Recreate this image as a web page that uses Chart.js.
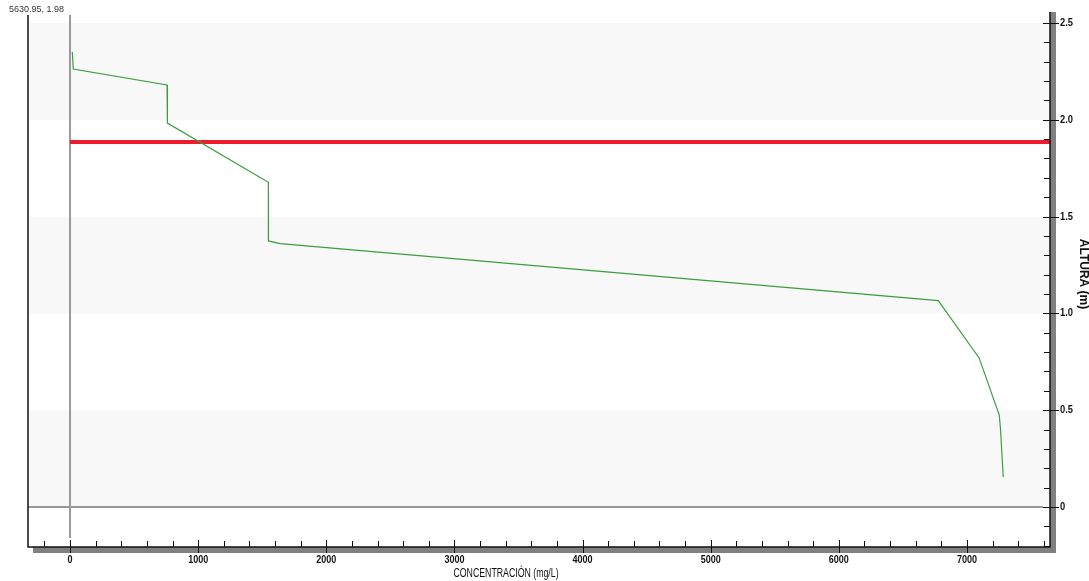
<!DOCTYPE html>
<html>
<head>
<meta charset="utf-8">
<script src="https://cdn.jsdelivr.net/npm/chart.js@4"></script>
<style>
html,body{margin:0;padding:0;background:#fff;}
#wrap{width:1089px;height:581px;position:relative;}
</style>
</head>
<body>
<div id="wrap"><canvas id="c" width="1089" height="581"></canvas></div>
<script>
// ---- data ----
const concentration = [18, 25, 757, 760, 1548, 1548, 1640, 6776, 7095, 7252, 7262, 7283];
const height        = [2.35, 2.262, 2.18, 1.983, 1.677, 1.374, 1.36, 1.066, 0.77, 0.475, 0.40, 0.155];
const refLevelY = 1.885;
const refLevelX = [0, 7648];
const xTickMajor = [0, 1000, 2000, 3000, 4000, 5000, 6000, 7000];
const yTickMajor = [0, 0.5, 1.0, 1.5, 2.0, 2.5];
const yTickLabels = ['0', '0.5', '1.0', '1.5', '2.0', '2.5'];
const xMinorStep = 200;
const yMinorStep = 0.1;
const xTitle = 'CONCENTRACIÓN (mg/L)';
const yTitle = 'ALTURA (m)';
const cursorText = '5630.95, 1.98';
const bands = [[2.0, 2.5], [1.0, 1.5], [0, 0.5]];

const curve = concentration.map((x, i) => ({x: x, y: height[i]}));
const redLine = refLevelX.map(x => ({x: x, y: refLevelY}));

const FONT = "'Liberation Sans', Arial, sans-serif";

function narrowText(ctx, text, x, y, sx) {
  ctx.save();
  ctx.translate(x, y);
  ctx.scale(sx, 1);
  ctx.fillText(text, 0, 0);
  ctx.restore();
}

const deco = {
  id: 'deco',
  beforeDatasetsDraw(chart) {
    const {ctx, chartArea: a, scales: {x, y}} = chart;
    ctx.save();
    ctx.fillStyle = '#f8f8f8';
    bands.forEach(b => {
      const y1 = y.getPixelForValue(b[1]), y0 = y.getPixelForValue(b[0]);
      ctx.fillRect(a.left, y1, a.right - a.left, y0 - y1);
    });
    const yz = y.getPixelForValue(0);
    ctx.strokeStyle = '#7a7a7a';
    ctx.lineWidth = 1.5;
    ctx.beginPath(); ctx.moveTo(a.left, yz); ctx.lineTo(a.right - 7, yz); ctx.stroke();
    const xz = x.getPixelForValue(0);
    ctx.strokeStyle = '#9a9a9a';
    ctx.lineWidth = 2;
    ctx.beginPath(); ctx.moveTo(xz, a.top); ctx.lineTo(xz, a.bottom - 9); ctx.stroke();
    ctx.restore();
  },
  afterDraw(chart) {
    const {ctx, chartArea: a, scales: {x, y}} = chart;
    ctx.save();
    ctx.fillStyle = '#808080';
    ctx.fillRect(a.left + 5, a.bottom, a.right - a.left + 1, 6);
    ctx.fillRect(a.right, a.top - 3, 6, a.bottom - a.top + 9);
    ctx.strokeStyle = '#111';
    ctx.lineWidth = 1.5;
    ctx.beginPath();
    ctx.moveTo(a.left, a.top); ctx.lineTo(a.left, a.bottom); ctx.lineTo(a.right, a.bottom); ctx.lineTo(a.right, a.top - 3);
    ctx.stroke();
    ctx.lineWidth = 1;
    for (let v = -200; v <= 7600; v += xMinorStep) {
      const px = Math.round(x.getPixelForValue(v)) + 0.5;
      const major = xTickMajor.includes(v);
      ctx.beginPath();
      ctx.moveTo(px, a.bottom - (major ? 7 : 6));
      ctx.lineTo(px, a.bottom + (major ? 6 : 0));
      ctx.stroke();
    }
    for (let i = -2; i <= 25; i++) {
      const v = i * yMinorStep;
      const py = Math.round(y.getPixelForValue(v)) + 0.5;
      const major = i % 5 === 0;
      ctx.beginPath();
      ctx.moveTo(a.right - (major ? 7 : 6), py);
      ctx.lineTo(a.right + (major ? 9 : 0), py);
      ctx.stroke();
    }
    ctx.fillStyle = '#111';
    ctx.font = "bold 11px " + FONT;
    ctx.textAlign = 'center';
    ctx.textBaseline = 'middle';
    xTickMajor.forEach(v => narrowText(ctx, String(v), x.getPixelForValue(v), 560, 0.82));
    ctx.textAlign = 'left';
    yTickMajor.forEach((v, i) => narrowText(ctx, yTickLabels[i], a.right + 10, y.getPixelForValue(v), 0.85));
    ctx.font = "12px " + FONT;
    ctx.textAlign = 'center';
    narrowText(ctx, xTitle, 506, 574, 0.73);
    ctx.font = "bold 12px " + FONT;
    ctx.translate(1083, 274);
    ctx.rotate(Math.PI / 2);
    ctx.fillText(yTitle, 0, 0);
    ctx.restore();
    ctx.save();
    ctx.fillStyle = '#333';
    ctx.font = "9px " + FONT;
    ctx.textBaseline = 'middle';
    ctx.textAlign = 'left';
    ctx.fillText(cursorText, 9, 10);
    ctx.restore();
  }
};

new Chart(document.getElementById('c'), {
  type: 'scatter',
  data: {
    datasets: [
      {data: redLine, showLine: true, borderColor: '#ee1c2a', borderWidth: 4, pointRadius: 0, order: 2},
      {data: curve, showLine: true, borderColor: '#3d9e3d', borderWidth: 1.2, pointRadius: 0, order: 1}
    ]
  },
  options: {
    responsive: false,
    animation: false,
    events: [],
    layout: {padding: {left: 28, top: 15, right: 39, bottom: 34}},
    plugins: {legend: {display: false}, tooltip: {enabled: false}},
    scales: {
      x: {type: 'linear', display: false, min: -328, max: 7648},
      y: {type: 'linear', display: false, position: 'right', min: -0.2066, max: 2.541}
    }
  },
  plugins: [deco]
});
</script>
</body>
</html>
